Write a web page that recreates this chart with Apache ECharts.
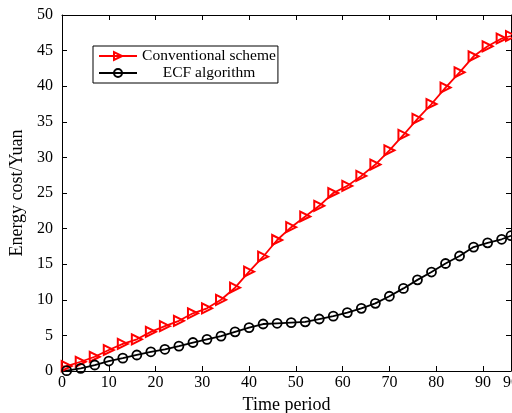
<!DOCTYPE html>
<html>
<head>
<meta charset="utf-8">
<script src="https://cdn.jsdelivr.net/npm/echarts@6/dist/echarts.min.js"></script>
<style>
html,body{margin:0;padding:0;background:#fff;}
#chart{width:512px;height:413px;}
</style>
</head>
<body>
<div id="chart"></div>
<script>
const timePeriods = [0,1,4,7,10,13,16,19,22,25,28,31,34,37,40,43,46,49,52,55,58,61,64,67,70,73,76,79,82,85,88,91,94,96];
const conventional = [0.6,0.7,1.3,2.0,2.95,3.8,4.45,5.5,6.3,7.05,8.1,8.8,10.0,11.7,13.95,16.05,18.4,20.2,21.7,23.2,25.0,26.0,27.4,29.0,31.0,33.15,35.4,37.5,39.8,41.95,44.2,45.6,46.7,47.05];
const ecf = [0,0.05,0.37,0.84,1.4,1.8,2.25,2.7,3.05,3.5,4.0,4.45,4.9,5.5,6.1,6.6,6.7,6.8,6.9,7.3,7.7,8.2,8.8,9.5,10.5,11.6,12.8,13.9,15.1,16.15,17.4,18.0,18.5,19.0];
const xTicks = [0,10,20,30,40,50,60,70,80,90,96];
const seriesNames = ['Conventional scheme','ECF algorithm'];

const FONT = '"Liberation Serif","Times New Roman",serif';
const pairs = (ys) => timePeriods.map((x,i)=>[x, ys[i]]);
const sizeFn = (s) => (v, p) => (p.dataIndex === 0 ? 0 : s);

const chart = echarts.init(document.getElementById('chart'), null, {renderer:'canvas'});
const axisCommon = {
  axisLine:{show:true, onZero:false, lineStyle:{color:'#000', width:1}},
  axisTick:{show:true, inside:true, length:5, lineStyle:{color:'#000', width:1}},
  splitLine:{show:false}
};
chart.setOption({
  animation:false,
  backgroundColor:'#fff',
  grid:{left:62, top:15, right:1, bottom:42, containLabel:false, outerBoundsMode:'none'},
  legend:{
    left:93, top:46, orient:'vertical',
    borderColor:'#000', borderWidth:1, borderRadius:0,
    padding:[2,2,2,5], itemGap:1, itemWidth:38, itemHeight:10,
    backgroundColor:'#fff',
    data:seriesNames,
    formatter: (n) => '{t|' + n + '}',
    textStyle:{fontFamily:FONT, fontSize:15.5, color:'#000',
      rich:{t:{width:134, align:'center', fontFamily:FONT, fontSize:15.5, color:'#000'}}}
  },
  xAxis:[
    Object.assign({}, axisCommon, {
      type:'value', min:0, max:96, position:'bottom',
      name:'Time period', nameLocation:'middle', nameGap:23,
      nameTextStyle:{fontFamily:FONT, fontSize:18, color:'#000'},
      axisTick:{show:true, inside:true, length:5, customValues:xTicks, lineStyle:{color:'#000'}},
      axisLabel:{customValues:xTicks, fontFamily:FONT, fontSize:16, color:'#000', margin:4, hideOverlap:false}
    }),
    Object.assign({}, axisCommon, {
      type:'value', min:0, max:96, position:'top',
      axisTick:{show:true, inside:true, length:5, customValues:xTicks, lineStyle:{color:'#000'}},
      axisLabel:{show:false}
    })
  ],
  yAxis:[
    Object.assign({}, axisCommon, {
      type:'value', min:0, max:50, interval:5, position:'left',
      name:'Energy cost/Yuan', nameLocation:'middle', nameGap:31,
      nameTextStyle:{fontFamily:FONT, fontSize:18, color:'#000'},
      axisLabel:{fontFamily:FONT, fontSize:16, color:'#000', margin:9}
    }),
    Object.assign({}, axisCommon, {
      type:'value', min:0, max:50, interval:5, position:'right',
      axisLabel:{show:false}
    })
  ],
  series:[
    {
      name:seriesNames[0], type:'line', data:pairs(conventional),
      xAxisIndex:0, yAxisIndex:0,
      symbol:'triangle', symbolRotate:-90, symbolSize:sizeFn(10),
      lineStyle:{color:'#ff0000', width:1.8},
      itemStyle:{color:'rgba(255,255,255,0)', borderColor:'#ff0000', borderWidth:2},
      z:3
    },
    {
      name:seriesNames[1], type:'line', data:pairs(ecf),
      xAxisIndex:0, yAxisIndex:0,
      symbol:'circle', symbolSize:sizeFn(9),
      lineStyle:{color:'#000', width:1.8},
      itemStyle:{color:'rgba(255,255,255,0)', borderColor:'#000', borderWidth:1.8},
      z:3
    }
  ]
});
</script>
</body>
</html>
